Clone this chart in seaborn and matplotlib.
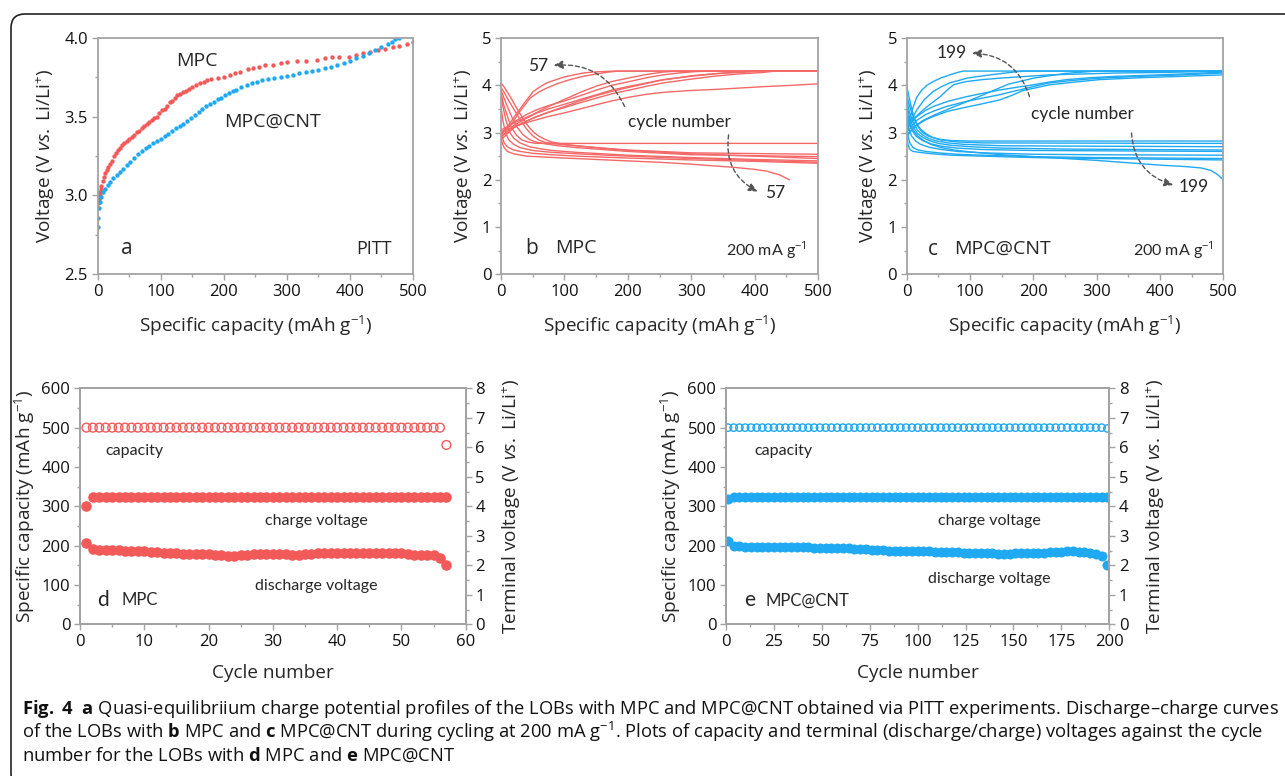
import numpy as np
import pandas as pd
import matplotlib
matplotlib.use("Agg")
import matplotlib.pyplot as plt
import seaborn as sns
from matplotlib.patches import FancyBboxPatch
from matplotlib.ticker import MultipleLocator, FormatStrFormatter
from matplotlib.transforms import IdentityTransform

RED = "#F25A5A"
RED_LINE = "#F46868"
BLUE = "#1EA9F2"
GREY = "#a3a3a3"

# ---------------- panel a: PITT charge profiles ----------------
a_mpc_cap = [0, 1, 2, 3, 4, 5, 6, 8, 10, 12, 14, 17, 20, 23, 26, 29, 32, 35, 38, 42,
             46, 50, 54, 58, 62, 66, 70, 74, 78, 82, 86, 90, 94, 98, 102, 106, 110, 114,
             118, 122, 126, 130, 135, 140, 145, 150, 156, 162, 168, 174, 180, 190, 200,
             210, 218, 225, 238, 246, 256, 266, 278, 290, 300, 316, 330, 348, 360, 372,
             382, 398, 410, 420, 432, 444, 456, 468, 478, 490, 500]
a_mpc_v = [2.92, 2.95, 2.98, 3.00, 3.02, 3.04, 3.06, 3.09, 3.12, 3.14, 3.16, 3.18, 3.20,
           3.22, 3.25, 3.27, 3.29, 3.30, 3.32, 3.33, 3.345, 3.36, 3.37, 3.385, 3.40, 3.41,
           3.425, 3.44, 3.45, 3.465, 3.48, 3.49, 3.50, 3.52, 3.54, 3.55, 3.57, 3.59, 3.60,
           3.62, 3.635, 3.645, 3.655, 3.665, 3.675, 3.685, 3.70, 3.71, 3.72, 3.73, 3.74,
           3.745, 3.75, 3.765, 3.775, 3.785, 3.80, 3.81, 3.815, 3.825, 3.83, 3.84, 3.845,
           3.85, 3.855, 3.86, 3.87, 3.875, 3.875, 3.88, 3.89, 3.90, 3.91, 3.92, 3.93, 3.94,
           3.95, 3.96, 3.97]
a_cnt_cap = [0, 1, 2, 3, 5, 8, 12, 16, 20, 25, 30, 35, 40, 46, 52, 58, 64, 70, 76, 82, 88,
             94, 100, 106, 112, 118, 124, 130, 136, 142, 148, 154, 160, 166, 172, 178, 184,
             190, 196, 202, 208, 214, 220, 228, 236, 244, 252, 260, 270, 280, 290, 300, 310,
             320, 330, 340, 350, 360, 370, 380, 390, 400, 410, 420, 430, 440, 450, 460, 466,
             472, 478]
a_cnt_v = [2.80, 2.86, 2.92, 2.96, 2.99, 3.02, 3.04, 3.065, 3.085, 3.11, 3.13, 3.15, 3.17,
           3.19, 3.215, 3.24, 3.26, 3.28, 3.30, 3.315, 3.33, 3.345, 3.36, 3.375, 3.39, 3.41,
           3.425, 3.44, 3.455, 3.47, 3.49, 3.51, 3.53, 3.55, 3.565, 3.58, 3.595, 3.61, 3.62,
           3.635, 3.65, 3.66, 3.67, 3.685, 3.70, 3.71, 3.72, 3.73, 3.74, 3.745, 3.75, 3.757,
           3.765, 3.775, 3.785, 3.79, 3.795, 3.805, 3.815, 3.825, 3.84, 3.855, 3.87, 3.885,
           3.90, 3.92, 3.94, 3.96, 3.975, 3.99, 4.00]

# ---------------- panel b: MPC discharge-charge curves ----------------
b_charge_cap = [
    [0, 10, 25, 40, 51, 62, 72, 85, 98, 115, 130, 145, 161, 180, 500],
    [0, 15, 30, 46, 60, 72, 90, 109, 130, 151, 170, 185, 500],
    [0, 20, 40, 56, 75, 98, 125, 151, 175, 203, 230, 256, 280, 308, 330, 500],
    [0, 20, 40, 56, 75, 98, 125, 151, 175, 203, 230, 256, 300, 335, 360, 387, 429, 500],
    [0, 20, 40, 56, 75, 98, 125, 151, 175, 203, 230, 256, 300, 335, 375, 413, 432, 500],
    [0, 20, 40, 56, 75, 98, 125, 151, 175, 203, 230, 256, 300, 335, 375, 413, 460, 500],
    [0, 20, 50, 75, 100, 125, 150, 175, 200, 230, 256, 280, 500],
    [0, 25, 50, 75, 100, 125, 150, 175, 200, 250, 300, 350, 400, 500],
]
b_charge_v = [
    [2.95, 3.12, 3.41, 3.68, 3.87, 3.97, 4.05, 4.11, 4.17, 4.22, 4.26, 4.28, 4.29, 4.30, 4.30],
    [2.95, 3.15, 3.45, 3.73, 3.86, 3.94, 4.04, 4.12, 4.19, 4.24, 4.28, 4.30, 4.30],
    [3.00, 3.22, 3.38, 3.48, 3.57, 3.66, 3.78, 3.90, 4.00, 4.08, 4.16, 4.22, 4.26, 4.29, 4.30, 4.30],
    [2.90, 3.15, 3.30, 3.41, 3.50, 3.59, 3.70, 3.80, 3.90, 3.98, 4.05, 4.12, 4.19, 4.24, 4.26, 4.28, 4.30, 4.30],
    [2.85, 3.10, 3.24, 3.34, 3.43, 3.52, 3.63, 3.73, 3.82, 3.90, 3.98, 4.05, 4.13, 4.19, 4.24, 4.27, 4.30, 4.30],
    [3.00, 3.12, 3.21, 3.27, 3.34, 3.41, 3.50, 3.59, 3.67, 3.75, 3.81, 3.85, 3.89, 3.91, 3.94, 3.97, 4.00, 4.03],
    [3.05, 3.20, 3.38, 3.55, 3.70, 3.85, 3.98, 4.08, 4.15, 4.23, 4.28, 4.30, 4.30],
    [2.92, 3.15, 3.30, 3.43, 3.55, 3.67, 3.78, 3.87, 3.95, 4.10, 4.20, 4.26, 4.30, 4.30],
]
b_dis_cap = [
    [0, 3, 8, 15, 22, 30, 38, 45, 52, 60, 70, 80, 100, 120, 160, 200, 300, 400, 500],
    [0, 5, 12, 20, 30, 40, 50, 60, 70, 85, 100, 150, 200, 300, 500],
    [0, 5, 10, 18, 25, 35, 45, 55, 70, 90, 120, 200, 300, 500],
    [0, 4, 10, 16, 24, 32, 42, 55, 500],
    [0, 3, 8, 14, 20, 30, 45, 60, 80, 120, 200, 300, 400, 500],
    [0, 3, 7, 12, 20, 30, 50, 80, 120, 200, 300, 400, 500],
    [0, 2, 5, 10, 18, 30, 50, 80, 120, 200, 300, 400, 500],
    [0, 2, 5, 10, 20, 40, 70, 100, 150, 200, 250, 300, 340, 370, 400, 420, 440, 455],
]
b_dis_v = [
    [4.05, 4.00, 3.90, 3.75, 3.58, 3.40, 3.22, 3.10, 3.00, 2.92, 2.85, 2.80, 2.75, 2.72, 2.67, 2.62, 2.55, 2.50, 2.45],
    [3.95, 3.85, 3.68, 3.50, 3.28, 3.08, 2.93, 2.84, 2.79, 2.76, 2.74, 2.68, 2.63, 2.57, 2.54],
    [3.90, 3.72, 3.55, 3.30, 3.12, 2.95, 2.85, 2.80, 2.76, 2.72, 2.68, 2.60, 2.53, 2.49],
    [3.85, 3.60, 3.35, 3.12, 2.95, 2.85, 2.80, 2.77, 2.77],
    [3.80, 3.55, 3.25, 3.00, 2.88, 2.78, 2.70, 2.66, 2.62, 2.58, 2.52, 2.47, 2.43, 2.40],
    [3.55, 3.25, 3.00, 2.85, 2.75, 2.68, 2.62, 2.58, 2.55, 2.50, 2.45, 2.41, 2.37],
    [3.10, 2.90, 2.78, 2.70, 2.64, 2.60, 2.56, 2.53, 2.50, 2.46, 2.42, 2.39, 2.35],
    [2.90, 2.78, 2.68, 2.60, 2.55, 2.50, 2.48, 2.46, 2.43, 2.40, 2.37, 2.33, 2.29, 2.26, 2.22, 2.18, 2.10, 2.00],
]

# ---------------- panel c: MPC@CNT discharge-charge curves ----------------
c_charge_cap = [
    [0, 5, 10.5, 16, 24, 32, 42, 55, 68, 80, 89, 500],
    [0, 8, 16, 28, 42, 55, 68, 82, 95, 115, 132, 150, 163, 184, 500],
    [0, 12, 26, 40, 53, 64, 74, 85, 95, 120, 147, 180, 226, 280, 332, 400, 437, 500],
    [0, 15, 30, 42, 65, 95, 120, 147, 175, 200, 226, 253, 290, 332, 380, 437, 500],
    [0, 15, 30, 42, 65, 95, 120, 147, 165, 184, 205, 226, 260, 305, 370, 437, 500],
    [0, 15, 30, 42, 65, 95, 120, 147, 165, 184, 205, 226, 260, 305, 370, 437, 500],
    [0, 10, 25, 45, 70, 100, 130, 160, 200, 250, 300, 500],
]
c_charge_v = [
    [2.99, 3.30, 3.55, 3.75, 3.90, 4.00, 4.08, 4.16, 4.22, 4.27, 4.30, 4.30],
    [3.05, 3.28, 3.48, 3.70, 3.87, 3.97, 4.05, 4.10, 4.15, 4.19, 4.22, 4.25, 4.27, 4.30, 4.30],
    [3.05, 3.30, 3.48, 3.63, 3.76, 3.90, 4.01, 4.05, 4.08, 4.12, 4.15, 4.18, 4.22, 4.24, 4.26, 4.27, 4.28, 4.30],
    [3.10, 3.33, 3.47, 3.55, 3.66, 3.76, 3.83, 3.90, 3.96, 4.01, 4.07, 4.12, 4.16, 4.19, 4.21, 4.24, 4.28],
    [3.00, 3.25, 3.38, 3.45, 3.56, 3.66, 3.73, 3.80, 3.86, 3.92, 3.99, 4.05, 4.10, 4.15, 4.19, 4.22, 4.26],
    [2.95, 3.15, 3.27, 3.34, 3.45, 3.54, 3.61, 3.69, 3.78, 3.89, 3.95, 4.01, 4.06, 4.12, 4.16, 4.19, 4.22],
    [2.90, 3.10, 3.25, 3.38, 3.52, 3.68, 3.85, 4.02, 4.15, 4.25, 4.30, 4.30],
]
c_dis_cap = [
    [0, 3, 7, 12, 18, 25, 35, 50, 70, 100, 200, 500],
    [0, 4, 9, 15, 22, 30, 40, 55, 80, 120, 500],
    [0, 4, 10, 17, 25, 35, 48, 65, 90, 150, 300, 500],
    [0, 4, 10, 17, 25, 35, 50, 70, 100, 150, 250, 500],
    [0, 3, 8, 15, 25, 38, 55, 80, 120, 200, 350, 500],
    [0, 3, 8, 14, 22, 35, 55, 80, 120, 200, 300, 500],
    [0, 2, 5, 10, 18, 30, 50, 80, 120, 200, 300, 500],
    [0, 2, 5, 10, 20, 40, 70, 120, 200, 300, 500],
    [0, 4, 10, 18, 28, 40, 55, 75, 100, 150, 200, 250, 300, 350, 400, 440, 465, 480, 490, 500],
]
c_dis_v = [
    [3.98, 3.80, 3.55, 3.30, 3.12, 3.00, 2.92, 2.86, 2.83, 2.82, 2.82, 2.82],
    [3.80, 3.58, 3.38, 3.20, 3.07, 2.98, 2.90, 2.84, 2.80, 2.78, 2.77],
    [3.70, 3.45, 3.22, 3.05, 2.95, 2.87, 2.82, 2.78, 2.75, 2.72, 2.71, 2.70],
    [3.60, 3.35, 3.12, 2.98, 2.90, 2.83, 2.77, 2.73, 2.70, 2.67, 2.65, 2.63],
    [3.50, 3.25, 3.05, 2.92, 2.83, 2.76, 2.71, 2.67, 2.64, 2.62, 2.61, 2.60],
    [3.30, 3.08, 2.92, 2.82, 2.75, 2.69, 2.64, 2.60, 2.57, 2.54, 2.53, 2.52],
    [3.10, 2.92, 2.78, 2.68, 2.63, 2.60, 2.57, 2.54, 2.52, 2.49, 2.47, 2.45],
    [2.95, 2.75, 2.64, 2.60, 2.58, 2.55, 2.52, 2.50, 2.47, 2.45, 2.42],
    [3.45, 3.22, 3.05, 2.92, 2.82, 2.74, 2.68, 2.63, 2.59, 2.53, 2.49, 2.45, 2.41, 2.36, 2.31, 2.28, 2.25, 2.20, 2.12, 2.00],
]

# ---------------- panel d: MPC cycling ----------------
d_cycle = list(range(1, 58))
d_capacity = [
    500, 500, 500, 500, 500, 500, 500, 500, 500, 500,
    500, 500, 500, 500, 500, 500, 500, 500, 500, 500,
    500, 500, 500, 500, 500, 500, 500, 500, 500, 500,
    500, 500, 500, 500, 500, 500, 500, 500, 500, 500,
    500, 500, 500, 500, 500, 500, 500, 500, 500, 500,
    500, 500, 500, 500, 500, 500, 456,
]
d_charge = [
    4.02, 4.30, 4.30, 4.30, 4.30, 4.30, 4.30, 4.30, 4.30, 4.30,
    4.30, 4.30, 4.30, 4.30, 4.30, 4.30, 4.30, 4.30, 4.30, 4.30,
    4.30, 4.30, 4.30, 4.30, 4.30, 4.30, 4.30, 4.30, 4.30, 4.30,
    4.30, 4.30, 4.30, 4.30, 4.30, 4.30, 4.30, 4.30, 4.30, 4.30,
    4.30, 4.30, 4.30, 4.30, 4.30, 4.30, 4.30, 4.30, 4.30, 4.30,
    4.30, 4.30, 4.30, 4.30, 4.30, 4.30, 4.30,
]
d_discharge = [
    2.77, 2.54, 2.53, 2.52, 2.52, 2.51, 2.50, 2.49, 2.48, 2.47,
    2.46, 2.45, 2.43, 2.42, 2.41, 2.40, 2.40, 2.39, 2.38, 2.37,
    2.36, 2.35, 2.33, 2.33, 2.34, 2.35, 2.37, 2.38, 2.39, 2.39,
    2.38, 2.37, 2.36, 2.35, 2.37, 2.39, 2.41, 2.42, 2.43, 2.42,
    2.42, 2.42, 2.42, 2.41, 2.41, 2.41, 2.42, 2.42, 2.41, 2.41,
    2.39, 2.36, 2.34, 2.34, 2.36, 2.25, 2.00,
]

# ---------------- panel e: MPC@CNT cycling (every third cycle) ----------------
e_cycle = list(range(1, 200, 3))
e_capacity = [
    500, 500, 500, 500, 500, 500, 500, 500, 500, 500,
    500, 500, 500, 500, 500, 500, 500, 500, 500, 500,
    500, 500, 500, 500, 500, 500, 500, 500, 500, 500,
    500, 500, 500, 500, 500, 500, 500, 500, 500, 500,
    500, 500, 500, 500, 500, 500, 500, 500, 500, 500,
    500, 500, 500, 500, 500, 500, 500, 500, 500, 500,
    500, 500, 500, 500, 500, 500, 498,
]
e_charge = [
    4.24, 4.30, 4.30, 4.30, 4.30, 4.30, 4.30, 4.30, 4.30, 4.30,
    4.30, 4.30, 4.30, 4.30, 4.30, 4.30, 4.30, 4.30, 4.30, 4.30,
    4.30, 4.30, 4.30, 4.30, 4.30, 4.30, 4.30, 4.30, 4.30, 4.30,
    4.30, 4.30, 4.30, 4.30, 4.30, 4.30, 4.30, 4.30, 4.30, 4.30,
    4.30, 4.30, 4.30, 4.30, 4.30, 4.30, 4.30, 4.30, 4.30, 4.30,
    4.30, 4.30, 4.30, 4.30, 4.30, 4.30, 4.30, 4.30, 4.30, 4.30,
    4.30, 4.30, 4.30, 4.30, 4.30, 4.30, 4.30,
]
e_discharge = [
    2.83, 2.67, 2.64, 2.63, 2.63, 2.63, 2.62, 2.62, 2.62, 2.62,
    2.62, 2.62, 2.61, 2.61, 2.61, 2.60, 2.60, 2.60, 2.59, 2.59,
    2.58, 2.57, 2.56, 2.55, 2.54, 2.52, 2.51, 2.51, 2.50, 2.50,
    2.49, 2.49, 2.48, 2.48, 2.47, 2.47, 2.46, 2.45, 2.45, 2.44,
    2.44, 2.43, 2.43, 2.43, 2.43, 2.42, 2.41, 2.40, 2.38, 2.40,
    2.41, 2.42, 2.42, 2.42, 2.43, 2.43, 2.44, 2.45, 2.46, 2.47,
    2.47, 2.46, 2.45, 2.43, 2.40, 2.33, 2.00,
]

caption_lines = [
    r"$\mathbf{Fig.\ 4}$  $\mathbf{a}$ Quasi-equilibriium charge potential profiles of the LOBs "
    r"with MPC and MPC@CNT obtained via PITT experiments. Discharge–charge curves",
    r"of the LOBs with $\mathbf{b}$ MPC and $\mathbf{c}$ MPC@CNT during cycling at 200 mA g$^{-1}$. "
    r"Plots of capacity and terminal (discharge/charge) voltages against the cycle",
    r"number for the LOBs with $\mathbf{d}$ MPC and $\mathbf{e}$ MPC@CNT",
]

sns.set_theme(style="ticks")
plt.rcParams["font.family"] = ["Open Sans", "DejaVu Sans"]
plt.rcParams["mathtext.fontset"] = "custom"
plt.rcParams["mathtext.rm"] = "Open Sans"
plt.rcParams["mathtext.it"] = "Open Sans:italic"
plt.rcParams["mathtext.bf"] = "Open Sans:bold"

VLABEL = r"Voltage (V $\mathit{vs.}$ Li/Li$^{+}$)"
CAPLABEL = r"Specific capacity (mAh g$^{-1}$)"
TLABEL = r"Terminal voltage (V $\mathit{vs.}$ Li/Li$^{+}$)"
ANNO = ["Lato", "DejaVu Sans"]
TICK_FS = 12
LABEL_FS = 13.7

W, H = 1285, 776
fig = plt.figure(figsize=(W / 100, H / 100), dpi=100)


def axes_px(x0, x1, ytop, ybot):
    return fig.add_axes([x0 / W, 1 - ybot / H, (x1 - x0) / W, (ybot - ytop) / H])


def style(ax):
    for sp in ax.spines.values():
        sp.set_color(GREY)
        sp.set_linewidth(1.3)
    ax.tick_params(which="both", direction="out", color=GREY, width=1.0,
                   labelsize=TICK_FS, labelcolor="#111111")
    ax.tick_params(which="major", length=4.5, pad=2.5)
    ax.tick_params(which="minor", length=2.5)


def curves_frame(caps, volts):
    rows = []
    for i, (cs, vs) in enumerate(zip(caps, volts)):
        for c, v in zip(cs, vs):
            rows.append((i, c, v))
    return pd.DataFrame(rows, columns=["curve", "cap", "v"])


ax_a = axes_px(97.7, 413, 37.7, 274.3)
ax_b = axes_px(501, 818, 38, 274.3)
ax_c = axes_px(906.7, 1223.3, 38, 274.3)
ax_d = axes_px(80, 465.7, 388.3, 624.3)
ax_e = axes_px(726, 1109.3, 388.3, 624.3)

# ---- a
sns.scatterplot(x=a_mpc_cap, y=a_mpc_v, ax=ax_a, color=RED, s=10, linewidth=0)
sns.scatterplot(x=a_cnt_cap, y=a_cnt_v, ax=ax_a, color=BLUE, s=10, linewidth=0)
ax_a.set_xlim(0, 500)
ax_a.set_ylim(2.5, 4.0)
ax_a.xaxis.set_major_locator(MultipleLocator(100))
ax_a.xaxis.set_minor_locator(MultipleLocator(50))
ax_a.yaxis.set_major_locator(MultipleLocator(0.5))
ax_a.yaxis.set_minor_locator(MultipleLocator(0.25))
ax_a.yaxis.set_major_formatter(FormatStrFormatter("%.1f"))
ax_a.text(157, 3.85, "MPC", fontsize=14, ha="center", va="center")
ax_a.text(277, 3.47, "MPC@CNT", fontsize=14, ha="center", va="center")
ax_a.text(46, 2.665, "a", fontsize=15, ha="center", va="center")
ax_a.text(438, 2.66, "PITT", fontsize=13, ha="center", va="center")

# ---- b, c
for ax, ch_c, ch_v, ds_c, ds_v, col in [
    (ax_b, b_charge_cap, b_charge_v, b_dis_cap, b_dis_v, RED_LINE),
    (ax_c, c_charge_cap, c_charge_v, c_dis_cap, c_dis_v, BLUE),
]:
    for caps, volts in [(ch_c, ch_v), (ds_c, ds_v)]:
        sns.lineplot(data=curves_frame(caps, volts), x="cap", y="v", units="curve",
                     estimator=None, sort=False, color=col, lw=1.0, ax=ax)
    ax.set_xlim(0, 500)
    ax.set_ylim(0, 5)
    ax.xaxis.set_major_locator(MultipleLocator(100))
    ax.xaxis.set_minor_locator(MultipleLocator(50))
    ax.yaxis.set_major_locator(MultipleLocator(1))
    ax.yaxis.set_minor_locator(MultipleLocator(0.5))

arrow_kw = dict(arrowstyle="-|>,head_length=0.45,head_width=0.2", color="#555555",
                lw=1.0, linestyle=(0, (3, 2)), shrinkA=0, shrinkB=0)
ax_b.annotate("", xy=(83, 4.42), xytext=(195, 3.55),
              arrowprops=dict(connectionstyle="arc3,rad=0.35", **arrow_kw))
ax_b.annotate("", xy=(405, 1.75), xytext=(359, 2.95),
              arrowprops=dict(connectionstyle="arc3,rad=0.35", **arrow_kw))
ax_b.text(59, 4.40, "57", fontsize=12.5, family=ANNO, ha="center", va="center")
ax_b.text(433, 1.72, "57", fontsize=12.5, family=ANNO, ha="center", va="center")
ax_b.text(282, 3.23, "cycle number", fontsize=12.5, family=ANNO, ha="center", va="center")
ax_b.text(48, 0.55, "b", fontsize=15, ha="center", va="center")
ax_b.text(118, 0.55, "MPC", fontsize=14, ha="center", va="center")
ax_b.text(418, 0.52, r"200 mA g$^{-1}$", fontsize=11.5, family=ANNO, ha="center", va="center")

ax_c.annotate("", xy=(103, 4.68), xytext=(194, 3.76),
              arrowprops=dict(connectionstyle="arc3,rad=0.35", **arrow_kw))
ax_c.annotate("", xy=(421, 1.89), xytext=(355, 2.99),
              arrowprops=dict(connectionstyle="arc3,rad=0.35", **arrow_kw))
ax_c.text(71, 4.68, "199", fontsize=12.5, family=ANNO, ha="center", va="center")
ax_c.text(454, 1.84, "199", fontsize=12.5, family=ANNO, ha="center", va="center")
ax_c.text(278, 3.40, "cycle number", fontsize=12.5, family=ANNO, ha="center", va="center")
ax_c.text(42, 0.53, "c", fontsize=15, ha="center", va="center")
ax_c.text(152, 0.53, "MPC@CNT", fontsize=14, ha="center", va="center")
ax_c.text(421, 0.52, r"200 mA g$^{-1}$", fontsize=11.5, family=ANNO, ha="center", va="center")

for ax in (ax_a, ax_b, ax_c):
    style(ax)
    ax.set_xlabel(CAPLABEL, fontsize=LABEL_FS, labelpad=10)
    ax.set_ylabel(VLABEL, fontsize=LABEL_FS, labelpad=5)

# ---- d, e
for ax, cyc, cap, chg, dis, col, xmax, xmaj, hs, fs, lab, name, txt in [
    (ax_d, d_cycle, d_capacity, d_charge, d_discharge, RED, 60, 10, 40, 58, "d", "MPC",
     [(8.4, 440), (36.8, 262), (36.8, 98), (3.6, 63), (9.3, 63)]),
    (ax_e, e_cycle, e_capacity, e_charge, e_discharge, BLUE, 200, 25, 28, 52, "e", "MPC@CNT",
     [(29.9, 440), (137.3, 262), (137.3, 115), (12.5, 61), (42.3, 61)]),
]:
    ax2 = ax.twinx()
    sns.scatterplot(x=cyc, y=cap, ax=ax, color=col, s=hs, linewidth=1.0)
    hollow = ax.collections[-1]
    hollow.set_facecolor("none")
    hollow.set_edgecolor(col)
    sns.scatterplot(x=cyc, y=chg, ax=ax2, color=col, s=fs, linewidth=0)
    sns.scatterplot(x=cyc, y=dis, ax=ax2, color=col, s=fs, linewidth=0)
    ax.set_xlim(0, xmax)
    ax.set_ylim(0, 600)
    ax2.set_ylim(0, 8)
    ax.xaxis.set_major_locator(MultipleLocator(xmaj))
    ax.xaxis.set_minor_locator(MultipleLocator(xmaj / 2))
    ax.yaxis.set_major_locator(MultipleLocator(100))
    ax.yaxis.set_minor_locator(MultipleLocator(50))
    ax2.yaxis.set_major_locator(MultipleLocator(1))
    ax2.yaxis.set_minor_locator(MultipleLocator(0.5))
    style(ax)
    style(ax2)
    ax.set_xlabel("Cycle number", fontsize=LABEL_FS, labelpad=10)
    ax.set_ylabel(CAPLABEL, fontsize=LABEL_FS, labelpad=3)
    ax2.set_ylabel(TLABEL, fontsize=LABEL_FS, labelpad=11)
    (x1, y1), (x2, y2), (x3, y3), (x4, y4), (x5, y5) = txt
    ax.text(x1, y1, "capacity", fontsize=11.5, family=ANNO, ha="center", va="center")
    ax.text(x2, y2, "charge voltage", fontsize=11.5, family=ANNO, ha="center", va="center")
    ax.text(x3, y3, "discharge voltage", fontsize=11.5, family=ANNO, ha="center", va="center")
    ax.text(x4, y4, lab, fontsize=15, family=ANNO, ha="center", va="center")
    ax.text(x5, y5, name, fontsize=12, family=ANNO, ha="center", va="center")

# ---- frame and caption
box = FancyBboxPatch((11, -12), 1320, H - 14 + 12, boxstyle="round,pad=0,rounding_size=14",
                     transform=IdentityTransform(), fill=False, ec="#222222", lw=1.2)
fig.add_artist(box)

caps_txt = []
for i, line in enumerate(caption_lines):
    caps_txt.append(fig.text(22 / W, 1 - (714 + 23.5 * i) / H, line, fontsize=12,
                             ha="left", va="baseline", color="#111111"))
fig.canvas.draw()
w = caps_txt[0].get_window_extent(fig.canvas.get_renderer()).width
for t in caps_txt:
    t.set_fontsize(12 * 1258 / w)

fig.savefig("out.png", dpi=100)
